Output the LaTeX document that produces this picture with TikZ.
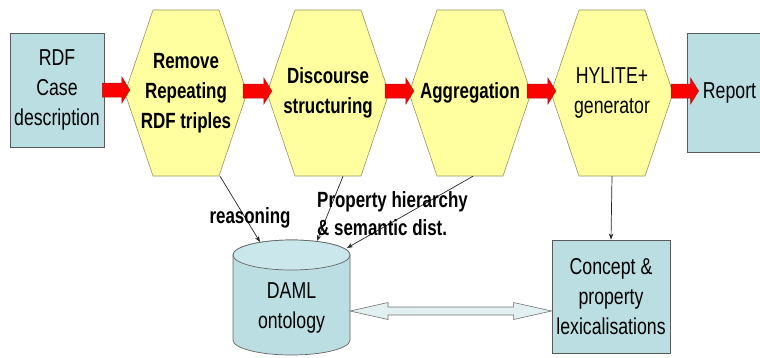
\documentclass[tikz,border=0pt]{standalone}
\usepackage{fontspec}
\setmainfont{Liberation Sans}[FakeStretch=0.77]
\usetikzlibrary{calc,arrows.meta}
\definecolor{boxblue}{RGB}{187,222,226}
\definecolor{cyltop}{RGB}{202,232,235}
\definecolor{hexyel}{RGB}{255,255,160}
\definecolor{hexline}{RGB}{150,150,100}
\definecolor{arrred}{RGB}{255,0,0}
\definecolor{arrdark}{RGB}{170,20,20}
\definecolor{dblfill}{RGB}{226,240,242}
\newcommand\redarrow[2]{\path[redarr] let \p1=(#1), \p2=(#2) in (\x1,\y1+7pt) -- (\x2-8pt,\y1+7pt) -- (\x2-8pt,\y1+13pt) -- (\x2,\y1) -- (\x2-8pt,\y1-13pt) -- (\x2-8pt,\y1-7pt) -- (\x1,\y1-7pt) -- cycle;}
\newcommand\dblarrow[2]{\path[dblarr] let \p1=(#1), \p2=(#2) in (\x1,\y1) -- (\x1+38pt,\y1+8.5pt) -- (\x1+38pt,\y1+4pt) -- (\x2-38pt,\y1+4pt) -- (\x2-38pt,\y1+8.5pt) -- (\x2,\y1) -- (\x2-38pt,\y1-8.5pt) -- (\x2-38pt,\y1-4pt) -- (\x1+38pt,\y1-4pt) -- (\x1+38pt,\y1-8.5pt) -- cycle;}
\newcommand\hexbox[4]{%
  \coordinate (#1c) at #2;
  \draw[hexsty] ($(#1c)+(-61,0)$) -- ($(#1c)+(-33,-83)$) -- ($(#1c)+(33,-83)$) -- ($(#1c)+(61,0)$) -- ($(#1c)+(33,83)$) -- ($(#1c)+(-33,83)$) -- cycle;
  \node[hexnode, #3] (#1) at (#1c) {#4};}
\begin{document}
\begin{tikzpicture}[x=1pt,y=-1pt,
  txt/.style={font=\fontsize{23}{30}\selectfont, align=center},
  btxt/.style={font=\bfseries\fontsize{22}{30}\selectfont, align=center},
  boxnode/.style={draw=black!65, line width=0.9pt, fill=boxblue, inner sep=0pt, txt},
  hexnode/.style={inner sep=0pt, minimum width=122pt, minimum height=166pt},
  hexsty/.style={draw=hexline, fill=hexyel, line width=0.6pt},
  redarr/.style={fill=arrred, draw=arrdark, line width=0.5pt},
  dblarr/.style={fill=dblfill, draw=black!55, line width=0.6pt},
  conn/.style={draw=black!85, line width=0.7pt, -{Stealth[length=6pt,width=4.5pt]}},
  lbl/.style={font=\bfseries\fontsize{22}{28}\selectfont, align=left, inner sep=0pt}
]
\useasboundingbox (0,0) rectangle (760,357);
\clip (0,0) rectangle (760,357);
\fill[white] (0,0) rectangle (760,357);

% boxes
\node[boxnode, minimum width=94pt, minimum height=114pt] (rdf) at (57,90) {RDF\\Case\\description};
\node[boxnode, minimum width=85pt, minimum height=119pt] (report) at (729.5,92.5) {Report};
\node[boxnode, minimum width=118pt, minimum height=113pt] (concept) at (611,296.5) {Concept \&\\property\\lexicalisations};

% hexagons
\hexbox{h1}{(186,93)}{btxt}{Remove\\Repeating\\RDF triples}
\hexbox{h2}{(328,93)}{btxt}{Discourse\\structuring}
\hexbox{h3}{(470,93)}{btxt}{Aggregation}
\hexbox{h4}{(612,93)}{txt}{HYLITE+\\generator}

% red block arrows
\coordinate (a1s) at ($(rdf.east)+(-2,0)$);
\coordinate (a1t) at ($(h1.west)+(5,0)$);
\redarrow{a1s}{a1t}
\coordinate (a2s) at ($(h1.east)+(-4,-2)$);
\coordinate (a2t) at ($(h2.west)+(5,0)$);
\redarrow{a2s}{a2t}
\coordinate (a3s) at ($(h2.east)+(-4,-2)$);
\coordinate (a3t) at ($(h3.west)+(5,0)$);
\redarrow{a3s}{a3t}
\coordinate (a4s) at ($(h3.east)+(-4,-2)$);
\coordinate (a4t) at ($(h4.west)+(5,0)$);
\redarrow{a4s}{a4t}
\coordinate (a5s) at ($(h4.east)+(-2,-2)$);
\coordinate (a5t) at ($(report.west)+(12,0)$);
\redarrow{a5s}{a5t}

% cylinder
\coordinate (cyl) at (291.5,255);
\draw[fill=boxblue, draw=black!60, line width=0.7pt] (233,255) -- (233,340) arc[start angle=180,end angle=360,x radius=58.5pt,y radius=15pt] -- (350,255) arc[start angle=0,end angle=180,x radius=58.5pt,y radius=15pt] -- cycle;
\draw[fill=cyltop, draw=black!60, line width=0.7pt] (cyl) ellipse[x radius=58.5pt, y radius=15pt];
\node[txt] (daml) at (291.5,308) {DAML\\ontology};

% connectors to ontology
\coordinate (r1s) at ($(h1.south)+(34,0)$);
\coordinate (r1t) at (260,242);
\draw[conn] (r1s) -- (r1t);
\coordinate (r2s) at ($(h2.south)+(15,0)$);
\coordinate (r2t) at (317,241);
\draw[conn] (r2s) -- (r2t);
\coordinate (r3s) at ($(h3.south)+(3,0)$);
\coordinate (r3t) at (347,248);
\draw[conn] (r3s) -- (r3t);
\draw[conn] (h4.south) -- (concept.north);

% labels
\node[lbl] (lreason) at (250,218) {reasoning};
\node[lbl, anchor=west] (lprop) at (317,214) {Property hierarchy\\\& semantic dist.};

% double arrow
\coordinate (cylr) at (350,311);
\dblarrow{cylr}{concept.west}
\end{tikzpicture}
\end{document}
